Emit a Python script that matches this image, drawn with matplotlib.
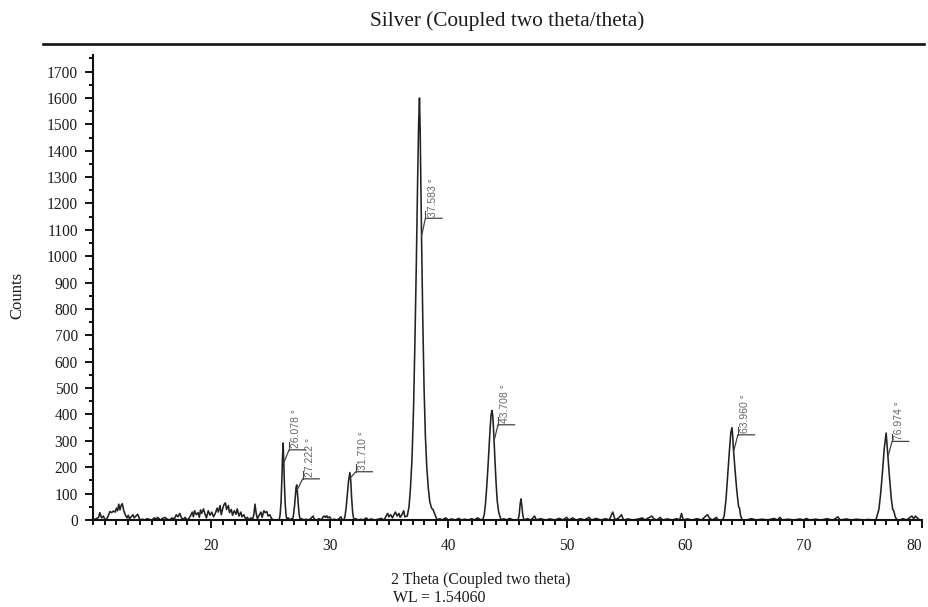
import numpy as np
import matplotlib
matplotlib.use("Agg")
import matplotlib.pyplot as plt
from matplotlib.lines import Line2D
from matplotlib.ticker import MultipleLocator, FixedLocator

# background scan (2theta, counts) between the reflections
bg_theta = [10.0, 10.3, 10.5, 10.6, 10.75, 10.9, 11.05, 11.2, 11.35, 11.45, 11.6, 11.75, 11.9, 12.0, 12.1,
            12.2, 12.3, 12.4, 12.5, 12.6, 12.7, 12.8, 12.9, 13.0, 13.1, 13.25, 13.4, 13.5, 13.65, 13.8,
            13.9, 14.0, 14.2, 14.4, 14.6, 14.8, 15.0, 15.2, 15.35, 15.5, 15.7, 15.9, 16.1, 16.3, 16.5,
            16.7, 16.9, 17.05, 17.2, 17.35, 17.5, 17.65, 17.8, 17.95, 18.1, 18.25, 18.4, 18.5, 18.6,
            18.75, 18.9, 19.0, 19.1, 19.2, 19.35, 19.5, 19.6, 19.75, 19.9, 20.05, 20.2, 20.35, 20.5,
            20.6, 20.75, 20.85, 21.0, 21.1, 21.2, 21.3, 21.45, 21.55, 21.7, 21.8, 21.95, 22.1, 22.2,
            22.35, 22.5, 22.6, 22.75, 22.9, 23.05, 23.2, 23.35, 23.5, 23.6, 23.7, 23.8, 23.9, 24.05,
            24.2, 24.3, 24.45, 24.55, 24.7, 24.8, 24.95, 25.1, 25.3, 25.6,
            26.5, 26.65, 26.8,
            27.65, 27.8, 28.0, 28.2, 28.4, 28.6, 28.7, 28.9, 29.1, 29.3, 29.45, 29.55, 29.65, 29.75,
            29.85, 30.0, 30.15, 30.4, 30.6, 30.8, 30.95, 31.05,
            32.2, 32.4, 32.6, 32.85, 33.1, 33.25, 33.5, 33.8, 34.1, 34.35, 34.6, 34.8, 34.9, 35.0,
            35.15, 35.3, 35.45, 35.55, 35.7, 35.85, 35.95, 36.1, 36.25, 36.35,
            39.3, 39.5, 39.8, 40.0, 40.3, 40.6, 40.9, 41.1, 41.4, 41.7, 42.0, 42.2, 42.5, 42.7, 42.85,
            44.7, 44.9, 45.2, 45.5, 45.9, 46.0, 46.08, 46.15, 46.22, 46.3, 46.4,
            46.7, 47.0, 47.3, 47.45, 47.8, 48.2, 48.6, 49.0, 49.4, 49.7, 50.0, 50.2, 50.5, 50.8, 51.2,
            51.5, 51.9, 52.1, 52.5, 52.9, 53.3, 53.6, 53.9, 54.1, 54.4, 54.64, 54.8, 55.2, 55.6, 56.0,
            56.4, 56.6, 57.0, 57.2, 57.35, 57.6, 57.9, 58.1, 58.5, 58.9, 59.3, 59.55, 59.7, 59.85,
            60.2, 60.6, 61.0, 61.4, 61.75, 61.9, 62.05, 62.3, 62.65, 62.8, 63.0,
            65.2, 65.6, 66.0, 66.5, 67.0, 67.5, 67.8, 68.0, 68.2, 68.7, 69.2, 69.7, 70.0, 70.25, 70.5,
            71.0, 71.5, 72.0, 72.2, 72.5, 72.9, 73.1, 73.6, 74.0, 74.5, 75.0, 75.5, 75.9,
            78.1, 78.4, 78.7, 79.0, 79.15, 79.3, 79.45, 79.6, 79.8, 80.0]
bg_counts = [0, 5, 10, 28, 8, 15, 0, 5, 20, 32, 28, 34, 30, 45, 35,
             60, 38, 55, 62, 40, 25, 15, 8, 18, 5, 12, 20, 8, 15, 22,
             10, 0, 3, 0, 5, 2, 0, 8, 4, 10, 0, 6, 10, 3, 0,
             8, 4, 20, 12, 25, 8, 2, 10, 0, 5, 15, 30, 12, 35,
             20, 28, 10, 38, 25, 42, 20, 8, 35, 18, 30, 12, 25, 45,
             30, 55, 20, 48, 60, 65, 40, 55, 28, 40, 18, 35, 22, 42,
             15, 30, 12, 20, 5, 10, 0, 8, 3, 20, 60, 25, 5, 18,
             30, 10, 35, 28, 32, 15, 20, 5, 0, 0,
             8, 0, 5,
             5, 0, 3, 0, 5, 15, 3, 0, 5, 0, 12, 15, 10, 16,
             8, 12, 0, 3, 0, 5, 12, 2,
             5, 0, 3, 0, 8, 0, 4, 0, 3, 6, 0, 18, 25, 12,
             20, 8, 22, 30, 15, 25, 10, 20, 35, 12,
             5, 0, 8, 0, 4, 0, 6, 0, 3, 0, 5, 0, 8, 2, 0,
             5, 0, 6, 0, 0, 20, 60, 80, 55, 20, 0,
             5, 0, 15, 0, 5, 0, 4, 0, 6, 0, 10, 0, 8, 0, 5,
             0, 10, 0, 6, 0, 5, 0, 30, 0, 8, 20, 0, 4, 0, 3,
             8, 0, 10, 15, 5, 0, 10, 0, 4, 0, 5, 0, 25, 0,
             4, 0, 5, 0, 15, 20, 8, 0, 10, 0, 0,
             0, 5, 0, 3, 0, 6, 0, 10, 0, 3, 0, 4, 0, 6, 0,
             3, 0, 5, 2, 0, 12, 0, 4, 0, 3, 0, 2, 0,
             0, 5, 0, 10, 15, 5, 15, 8, 0, 0]

# reflection profiles
p1_theta = [25.74, 25.82, 25.9, 25.97, 26.03, 26.078, 26.12, 26.18, 26.25, 26.33, 26.42]
p1_counts = [0, 20, 70, 160, 250, 292, 230, 140, 60, 15, 0]
p2_theta = [26.87, 26.95, 27.03, 27.1, 27.17, 27.222, 27.28, 27.35, 27.43, 27.52]
p2_counts = [0, 20, 50, 90, 125, 133, 105, 60, 20, 0]
p3_theta = [31.21, 31.3, 31.4, 31.5, 31.6, 31.71, 31.78, 31.86, 31.95, 32.05]
p3_counts = [0, 15, 50, 100, 150, 180, 150, 80, 25, 0]
p4_theta = [36.55, 36.7, 36.82, 36.95, 37.08, 37.2, 37.32, 37.42, 37.51, 37.583, 37.64, 37.7,
            37.78, 37.87, 37.97, 38.08, 38.2, 38.33, 38.45, 38.6, 38.72, 38.85, 38.98, 39.1]
p4_counts = [15, 50, 120, 230, 420, 680, 980, 1270, 1500, 1600, 1480, 1260,
             1000, 740, 500, 320, 200, 120, 70, 45, 40, 25, 10, 0]
p5_theta = [42.95, 43.05, 43.15, 43.25, 43.35, 43.45, 43.55, 43.63, 43.708, 43.78, 43.86, 43.95,
            44.05, 44.15, 44.27, 44.4, 44.5]
p5_counts = [5, 20, 60, 120, 190, 270, 350, 400, 415, 390, 320, 230, 140, 70, 30, 10, 0]
p6_theta = [63.18, 63.3, 63.46, 63.6, 63.74, 63.86, 63.96, 64.02, 64.08, 64.22, 64.37, 64.52,
            64.6, 64.67, 64.82]
p6_counts = [0, 15, 80, 170, 260, 330, 350, 320, 270, 190, 110, 50, 45, 20, 0]
p7_theta = [76.11, 76.36, 76.51, 76.66, 76.81, 76.974, 77.11, 77.26, 77.41, 77.53, 77.61, 77.76, 77.91]
p7_counts = [0, 40, 100, 180, 270, 330, 250, 160, 80, 40, 35, 10, 0]

# peak markers
peak_pos = [26.078, 27.222, 31.710, 37.583, 43.708, 63.960, 76.974]
peak_labels = ["26.078 °", "27.222 °", "31.710 °", "37.583 °", "43.708 °", "63.960 °", "76.974 °"]
leader_start = [217, 114, 160, 1076, 300, 260, 240]
leader_level = [266, 156, 183, 1144, 361, 323, 298]

theta = np.concatenate([bg_theta, p1_theta, p2_theta, p3_theta, p4_theta,
                        p5_theta, p6_theta, p7_theta])
counts = np.concatenate([bg_counts, p1_counts, p2_counts, p3_counts, p4_counts,
                         p5_counts, p6_counts, p7_counts])
order = np.argsort(theta)
theta, counts = theta[order], counts[order]

serif = "Liberation Serif"
ink = "#1c1c1c"
fig = plt.figure(figsize=(9.29, 6.07), dpi=100)
W, H = 929, 607
ax = fig.add_axes([92.7 / W, 1 - 520 / H, (922 - 92.7) / W, (520 - 55) / H])

ax.plot(theta, counts, color="#222222", lw=1.15)

# leaders + rotated position labels
for p, lab, ys, yh in zip(peak_pos, peak_labels, leader_start, leader_level):
    sel = (theta >= p) & (theta <= p + 1.2)
    xs = np.interp(ys, counts[sel][::-1], theta[sel][::-1])
    x0 = p + 0.5
    ax.plot([xs, x0, x0 + 1.4], [ys, yh, yh], color="#444444", lw=0.9)
    ax.plot([x0, x0], [yh, yh + 28], color="#444444", lw=0.8)
    ax.text(x0 + 0.62, yh + 6, lab, rotation=90, ha="center", va="bottom",
            fontsize=7.5, color="#666666", family="Liberation Sans")

ax.set_xlim(10, 80)
ax.set_ylim(0, 1763)
ax.xaxis.set_major_locator(FixedLocator(np.arange(20, 81, 10)))
ax.xaxis.set_minor_locator(MultipleLocator(1))
ax.yaxis.set_major_locator(MultipleLocator(100))
ax.yaxis.set_minor_locator(MultipleLocator(50))

for side in ("top", "right"):
    ax.spines[side].set_visible(False)
for side in ("left", "bottom"):
    ax.spines[side].set_linewidth(1.5)
    ax.spines[side].set_color("#111111")

ax.tick_params(axis="both", which="major", direction="out", length=5.6, width=1.4,
               color="#111111", labelsize=11.2, labelcolor=ink)
ax.tick_params(axis="y", which="minor", direction="out", length=3.2, width=1.4, color="#111111")
ax.tick_params(axis="x", which="minor", direction="out", length=3.6, width=1.4, color="#111111")
ax.tick_params(axis="y", which="major", pad=5)
ax.tick_params(axis="x", which="major", pad=7)
for t in ax.get_xticklabels() + ax.get_yticklabels():
    t.set_family(serif)
# keep the last x label inside the canvas
ax.get_xticklabels()[-1].set_horizontalalignment("right")
ax.get_xticklabels()[-1].set_x(80.45)

# header rule and texts
fig.add_artist(Line2D([43 / W, 924 / W], [1 - 44 / H, 1 - 44 / H], color="#111111", lw=1.9))
fig.text(507 / W, 1 - 21 / H, "Silver (Coupled two theta/theta)", ha="center", va="center",
         fontsize=15.3, family=serif, color=ink)
fig.text(17 / W, 1 - 295 / H, "Counts", rotation=90, ha="center", va="center",
         fontsize=12, family=serif, color=ink)
fig.text(391 / W, 1 - 580 / H, "2 Theta (Coupled two theta)", ha="left", va="center",
         fontsize=11.4, family=serif, color=ink)
fig.text(393 / W, 1 - 598 / H, "WL = 1.54060", ha="left", va="center",
         fontsize=11.4, family=serif, color=ink)

fig.savefig("out.png", dpi=100)
